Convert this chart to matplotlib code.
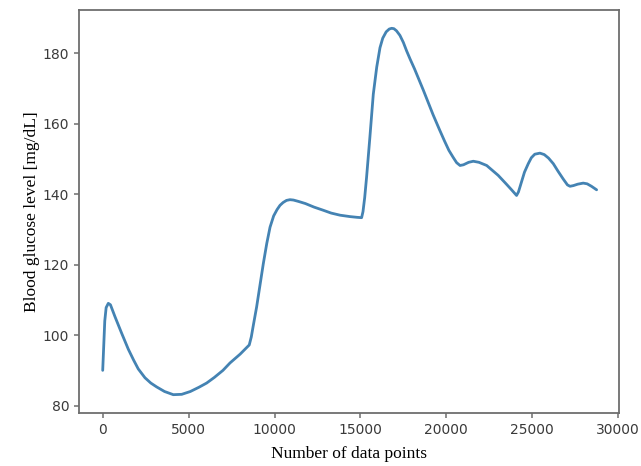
import matplotlib
matplotlib.use("Agg")
import matplotlib.pyplot as plt

# Data
x_points = [0, 60, 120, 200, 326, 450, 716, 1105, 1490, 1800, 2070, 2460, 2800, 3140, 3600, 4110,
            4600, 5100, 5600, 6050, 6500, 7000, 7410, 8000, 8530,
            8650, 8750, 8960, 9150, 9350, 9550, 9740, 9950, 10150, 10320, 10500, 10700, 10900,
            11100, 11400, 11800, 12300, 12840, 13300, 13820, 14400, 14800, 15070,
            15150, 15250, 15360, 15550, 15750, 15950, 16140, 16300, 16500, 16680, 16820,
            16950, 17100, 17300, 17500, 17690, 17900, 18150, 18660, 19230, 19600,
            19900, 20150, 20400, 20600, 20800, 21000, 21300, 21570, 21900, 22350, 23020,
            23500, 23800, 24090, 24200, 24350, 24550, 24770, 24950, 25150, 25450,
            25700, 25950, 26230, 26500, 26800, 27050, 27200, 27400, 27650, 27970,
            28200, 28450, 28750]
glucose = [90, 97, 104, 107.8, 109.0, 108.6, 105.2, 100.5, 96, 92.9, 90.4, 87.9, 86.4, 85.3, 84, 83.1,
           83.2, 84, 85.2, 86.4, 88, 90, 92.1, 94.6, 97.2,
           99.5, 102.3, 108, 114, 120.3, 126, 130.6, 133.8, 135.6, 136.8, 137.6, 138.2, 138.4,
           138.3, 137.9, 137.3, 136.3, 135.4, 134.6, 134.0, 133.6, 133.4, 133.3,
           135, 139, 144.8, 156, 168.3, 176, 181.5, 184.2, 186.0, 186.8, 187.0,
           186.9, 186.3, 185, 183, 180.6, 178.2, 175.5, 169.5, 162.5, 158.3,
           155.0, 152.4, 150.4, 148.9, 148.1, 148.3, 149.0, 149.3, 149.0, 148.1, 145.3,
           142.8, 141.2, 139.6, 140.6, 143.0, 146.2, 148.6, 150.3, 151.3, 151.6,
           151.2, 150.2, 148.6, 146.5, 144.3, 142.6, 142.2, 142.4, 142.8, 143.1,
           142.9, 142.2, 141.2]
x_ticks = [0, 5000, 10000, 15000, 20000, 25000, 30000]
y_ticks = [80, 100, 120, 140, 160, 180]
x_label = "Number of data points"
y_label = "Blood glucose level [mg/dL]"

fig = plt.figure(figsize=(6.41, 4.66), dpi=100)
ax = fig.add_axes([79/641, 1-413/466, (619.3-79)/641, (413-10)/466])
ax.plot(x_points, glucose, color="#4483b3", linewidth=2.0,
        solid_joinstyle="round", solid_capstyle="round")

ax.set_xlim(-1380, 30070)
ax.set_xticks(x_ticks)
ax.set_yticks(y_ticks)
for s in ax.spines.values():
    s.set_color("#6e6e6e")
    s.set_linewidth(1.3)
ax.tick_params(colors="#6e6e6e", labelcolor="#3a3a3a", labelsize=10, width=1.1)

ax.set_xlabel(x_label, fontfamily="Liberation Serif", fontsize=12.5, labelpad=7)
ax.set_ylabel(y_label, fontfamily="Liberation Serif", fontsize=12.5, labelpad=2)

fig.savefig("out.png", dpi=100)
